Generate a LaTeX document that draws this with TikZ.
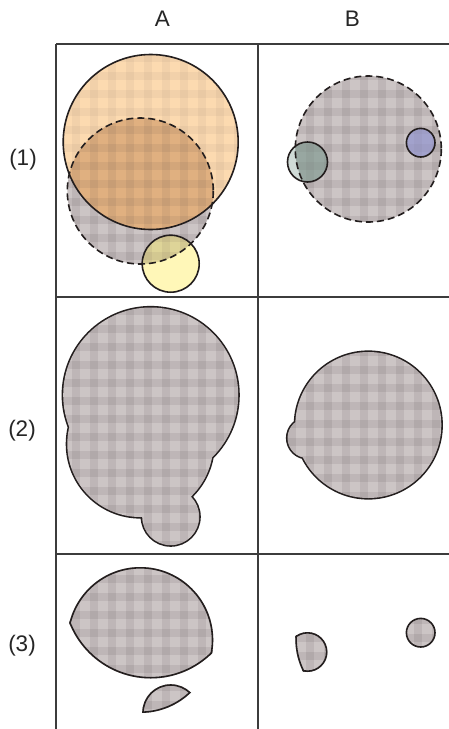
\documentclass[tikz,border=0pt]{standalone}
\usepackage{fontspec}
\setmainfont{Liberation Sans}
\definecolor{gridc}{RGB}{60,60,60}
\definecolor{linec}{RGB}{35,30,30}
\definecolor{gbase}{RGB}{204,197,197}
\definecolor{obase}{RGB}{252,218,176}
\definecolor{ogbase}{RGB}{224,176,128}
\definecolor{ybase}{RGB}{255,247,184}
\definecolor{ygbase}{RGB}{222,212,152}
\definecolor{ebase}{RGB}{208,219,215}
\definecolor{edbase}{RGB}{152,167,161}
\definecolor{fbase}{RGB}{162,162,204}
\definecolor{stripec}{RGB}{70,55,60}
\tikzset{
  outline/.style={draw=linec, line width=1.6pt},
  dashline/.style={outline, dash pattern=on 7pt off 4pt},
  gridline/.style={draw=gridc, line width=1.6pt},
  lbl/.style={font=\fontsize{22.5}{26}\selectfont, inner sep=0pt, text=black!85},
}
\newcommand\plaid[1][0.1]{%
  \foreach \i in {0,...,25}{\fill[stripec, fill opacity=#1] (\i*18,0) rectangle ++(8,729);}%
  \foreach \j in {0,...,41}{\fill[stripec, fill opacity=#1] (0,\j*18) rectangle ++(449,8);}}
\newcommand\cO{(150.7,142) circle [radius=87.5]}
\newcommand\cG{(140.3,191) circle [radius=73]}
\newcommand\cY{(170.7,263.7) circle [radius=28.5]}
\newcommand\cD{(368.3,149) circle [radius=73]}
\newcommand\cE{(307.5,162) circle [radius=20]}
\newcommand\cF{(420.7,142.7) circle [radius=14.3]}
\newcommand\allbox{(0,-100) rectangle (449,729)}
\begin{document}
\begin{tikzpicture}[x=1pt,y=-1pt]
\useasboundingbox (0,0) rectangle (449,729);
\fill[white] (0,0) rectangle (449,729);

% ---------- A (1)
\begin{scope}\clip \cG; \fill[gbase] \allbox; \plaid \end{scope}
\begin{scope}\clip \cO; \fill[obase] \allbox; \plaid[0.05] \end{scope}
\begin{scope}\clip \cO; \clip \cG; \fill[ogbase] \allbox; \plaid[0.08] \end{scope}
\begin{scope}\clip \cY; \fill[ybase] \allbox; \end{scope}
\begin{scope}\clip \cY; \clip \cG; \fill[ygbase] \allbox; \plaid[0.07] \end{scope}
\draw[dashline] \cG;
\draw[outline] \cO;
\draw[outline] \cY;

% ---------- B (1)
\begin{scope}\clip \cD; \fill[gbase] \allbox; \plaid \end{scope}
\begin{scope}\clip \cE; \fill[ebase] \allbox; \end{scope}
\begin{scope}\clip \cE; \clip \cD; \fill[edbase] \allbox; \plaid[0.05] \end{scope}
\begin{scope}\clip \cF; \fill[fbase] \allbox; \plaid[0.04] \end{scope}
\draw[dashline] \cD;
\draw[outline] \cE;
\draw[outline] \cF;

% ---------- A (2): union
\begin{scope}[shift={(0,253)}]
  \draw[outline, line width=3.2pt] \cO \cG \cY;
  \begin{scope}\clip \cO \cG \cY; \fill[gbase] \allbox; \plaid \end{scope}
\end{scope}

% ---------- B (2): union
\begin{scope}[shift={(0,276)}]
  \draw[outline, line width=3.2pt] \cD \cE \cF;
  \begin{scope}\clip \cD \cE \cF; \fill[gbase] \allbox; \plaid \end{scope}
\end{scope}

% ---------- A (3): intersections
\begin{scope}[shift={(0,449)}]
  \begin{scope}\clip \cO; \clip \cG; \fill[gbase] \allbox; \plaid
    \draw[outline, line width=3.2pt] \cO; \draw[outline, line width=3.2pt] \cG; \end{scope}
  \begin{scope}\clip \cY; \clip \cG; \fill[gbase] \allbox; \plaid
    \draw[outline, line width=3.2pt] \cY; \draw[outline, line width=3.2pt] \cG; \end{scope}
\end{scope}

% ---------- B (3): intersections
\begin{scope}[shift={(0,490)}]
  \begin{scope}\clip \cE; \clip \cD; \fill[gbase] \allbox; \plaid
    \draw[outline, line width=3.2pt] \cE; \draw[outline, line width=3.2pt] \cD; \end{scope}
  \begin{scope}\clip \cF; \fill[gbase] \allbox; \plaid \end{scope}
  \draw[outline] \cF;
\end{scope}

% ---------- grid
\coordinate (tl) at (56,44);
\coordinate (tr) at (449,44);
\coordinate (bl) at (56,729);
\coordinate (tm) at (258,44);
\coordinate (bm) at (258,729);
\coordinate (r1l) at (56,297);
\coordinate (r1r) at (449,297);
\coordinate (r2l) at (56,554);
\coordinate (r2r) at (449,554);
\draw[gridline] (tl) -- (tr);
\draw[gridline] (tl) -- (bl);
\draw[gridline] (tm) -- (bm);
\draw[gridline] (r1l) -- (r1r);
\draw[gridline] (r2l) -- (r2r);

% ---------- labels
\node[lbl] (colA) at (162.5,19) {A};
\node[lbl] (colB) at (352.5,19) {B};
\node[lbl] (row1) at (23,160) {(1)};
\node[lbl] (row2) at (22,431) {(2)};
\node[lbl] (row3) at (22,646) {(3)};
\end{tikzpicture}
\end{document}
